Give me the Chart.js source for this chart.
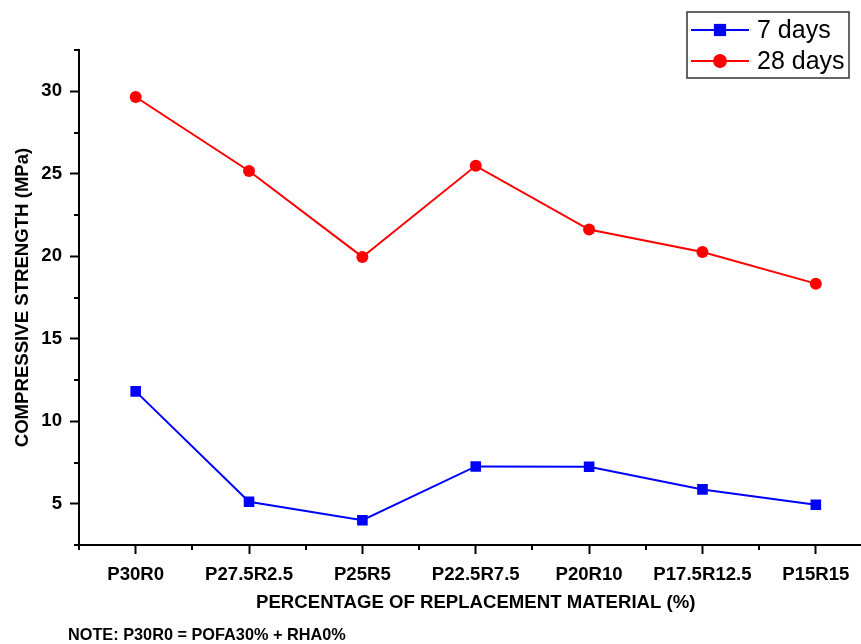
<!DOCTYPE html>
<html lang="en">
<head>
<meta charset="UTF-8">
<title>Compressive strength</title>
<script src="https://cdn.jsdelivr.net/npm/chart.js"></script>
<style>
  html, body { margin: 0; padding: 0; background: #fff; overflow: hidden; }
  #wrap { width: 880px; height: 644px; position: relative; }
</style>
</head>
<body>
<div id="wrap"><canvas id="strengthChart" width="880" height="644"></canvas></div>
<script>
// data
const mixes = ['P30R0', 'P27.5R2.5', 'P25R5', 'P22.5R7.5', 'P20R10', 'P17.5R12.5', 'P15R15'];
const strength7 = [11.81, 5.12, 4.0, 7.26, 7.24, 5.87, 4.94];
const strength28 = [29.65, 25.17, 19.96, 25.48, 21.62, 20.26, 18.34];
const yTicks = [5, 10, 15, 20, 25, 30];
const yMinorTicks = [2.5, 7.5, 12.5, 17.5, 22.5, 27.5, 32.5];
const seriesNames = ['7 days', '28 days'];
const noteText = 'NOTE: P30R0 = POFA30% + RHA0%';

const boldFont = { family: "'Liberation Sans', Arial, sans-serif", size: 18.6, weight: 'bold' };

// extra ticks between the labelled ones, legend box and footnote
const extras = {
  id: 'extras',
  afterDraw(chart) {
    const { ctx, chartArea, scales: { x, y } } = chart;
    ctx.save();
    ctx.strokeStyle = '#000';
    ctx.lineWidth = 2;
    ctx.beginPath();
    yMinorTicks.forEach(v => {
      const py = Math.round(y.getPixelForValue(v));
      ctx.moveTo(chartArea.left, py);
      ctx.lineTo(chartArea.left - 5, py);
    });
    for (let k = 0; k <= mixes.length; k++) {
      const px = Math.round(x.getPixelForValue(k - 0.5));
      ctx.moveTo(px, chartArea.bottom);
      ctx.lineTo(px, chartArea.bottom + 5);
    }
    ctx.stroke();

    // legend
    ctx.fillStyle = '#fff';
    ctx.fillRect(687, 12, 162, 66);
    ctx.strokeStyle = '#333';
    ctx.lineWidth = 1.5;
    ctx.strokeRect(687, 12, 162, 66);
    ctx.font = "25px 'Liberation Sans', Arial, sans-serif";
    ctx.textBaseline = 'middle';
    chart.data.datasets.forEach((ds, i) => {
      const cy = 30 + i * 31;
      ctx.strokeStyle = ds.borderColor;
      ctx.lineWidth = 2;
      ctx.beginPath();
      ctx.moveTo(691, cy);
      ctx.lineTo(749, cy);
      ctx.stroke();
      ctx.fillStyle = ds.backgroundColor;
      Chart.helpers.drawPoint(ctx, { pointStyle: ds.pointStyle, radius: ds.pointRadius * 1.15, borderWidth: 0 }, 720, cy);
      ctx.fillStyle = '#000';
      ctx.fillText(ds.label, 757, cy + 1);
    });

    // footnote
    ctx.font = "bold 16.3px 'Liberation Sans', Arial, sans-serif";
    ctx.fillStyle = '#000';
    ctx.textBaseline = 'middle';
    ctx.fillText(noteText, 68, 636);
    ctx.restore();
  }
};

new Chart(document.getElementById('strengthChart'), {
  type: 'line',
  data: {
    labels: mixes,
    datasets: [
      {
        label: seriesNames[0],
        data: strength7,
        borderColor: '#0000ff',
        backgroundColor: '#0000ff',
        borderWidth: 2,
        pointStyle: 'rect',
        pointRadius: 7.5,
        pointBorderWidth: 0,
        tension: 0
      },
      {
        label: seriesNames[1],
        data: strength28,
        borderColor: '#ff0000',
        backgroundColor: '#ff0000',
        borderWidth: 2,
        pointStyle: 'circle',
        pointRadius: 6,
        pointBorderWidth: 0,
        tension: 0
      }
    ]
  },
  options: {
    responsive: false,
    animation: false,
    layout: { padding: { top: 50, right: 5, left: 0, bottom: 0 } },
    plugins: {
      legend: { display: false },
      tooltip: { enabled: false }
    },
    scales: {
      x: {
        offset: true,
        grid: { display: true, drawOnChartArea: false, tickLength: 9, tickWidth: 2, tickColor: '#000' },
        border: { display: true, color: '#000', width: 2 },
        ticks: { color: '#000', font: boldFont, padding: 10, maxRotation: 0, autoSkip: false },
        title: {
          display: true,
          text: 'PERCENTAGE OF REPLACEMENT MATERIAL (%)',
          color: '#000',
          font: boldFont,
          padding: { top: 0, bottom: 30 }
        },
        afterFit(scale) { scale.height = 99; }
      },
      y: {
        min: 2.5,
        max: 32.5,
        grid: { display: true, drawOnChartArea: false, tickLength: 9, tickWidth: 2, tickColor: '#000' },
        border: { display: true, color: '#000', width: 2 },
        ticks: { color: '#000', font: boldFont, padding: 8 },
        afterBuildTicks(scale) { scale.ticks = yTicks.map(v => ({ value: v })); },
        title: {
          display: true,
          text: 'COMPRESSIVE STRENGTH (MPa)',
          color: '#000',
          font: boldFont,
          padding: { top: 12, bottom: 0 }
        },
        afterFit(scale) { scale.width = 79; }
      }
    }
  },
  plugins: [extras]
});
</script>
</body>
</html>
